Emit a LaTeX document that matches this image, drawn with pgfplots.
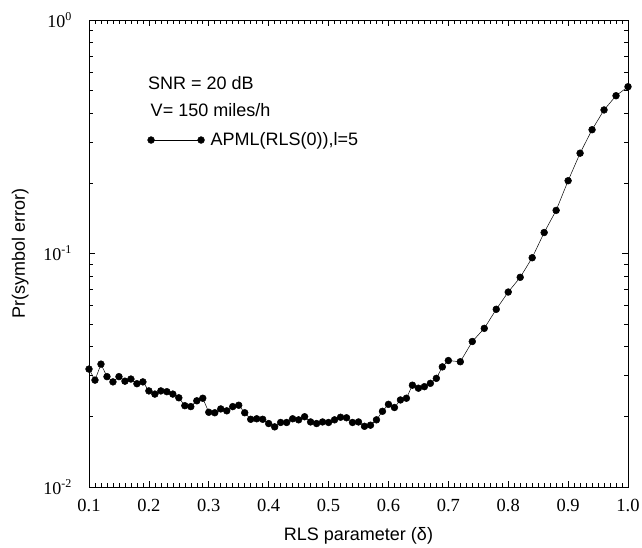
\documentclass[border=0pt]{standalone}
\usepackage{fontspec}
\setmainfont{Liberation Sans}
\newfontfamily\tickfont{Liberation Serif}
\usepackage{pgfplots}
\pgfplotsset{compat=1.18}
\usepackage{pgfplotstable}
\pgfplotstableread{
x y
0.10 0.0320
0.11 0.0287
0.12 0.0336
0.13 0.0297
0.14 0.0282
0.15 0.0297
0.16 0.0284
0.17 0.0290
0.18 0.0277
0.19 0.0282
0.20 0.0258
0.21 0.0250
0.22 0.0258
0.23 0.0256
0.24 0.0250
0.25 0.0241
0.26 0.0223
0.27 0.0221
0.28 0.0234
0.29 0.0240
0.30 0.0209
0.31 0.0208
0.32 0.0216
0.33 0.0212
0.34 0.0221
0.35 0.0224
0.36 0.0208
0.37 0.0195
0.38 0.0196
0.39 0.0195
0.40 0.0187
0.41 0.0181
0.42 0.0189
0.43 0.0189
0.44 0.0196
0.45 0.0194
0.46 0.0200
0.47 0.0190
0.48 0.0187
0.49 0.0190
0.50 0.0189
0.51 0.0194
0.52 0.0199
0.53 0.0198
0.54 0.0189
0.55 0.0190
0.56 0.0182
0.57 0.0184
0.58 0.0194
0.59 0.0211
0.60 0.0226
0.61 0.0219
0.62 0.0236
0.63 0.0240
0.64 0.0273
0.65 0.0265
0.66 0.0269
0.67 0.0278
0.68 0.0292
0.69 0.0327
0.70 0.0348
0.72 0.0344
0.74 0.0420
0.76 0.0478
0.78 0.0577
0.80 0.0684
0.82 0.0791
0.84 0.0959
0.86 0.123
0.88 0.153
0.90 0.205
0.92 0.269
0.94 0.339
0.96 0.412
0.98 0.474
1.00 0.518
}\datatable
\newcommand{\tp}[1]{\tickfont{\fontsize{18}{20}\selectfont 10}\raisebox{7pt}{\fontsize{12}{13}\selectfont #1}}
\begin{document}
\begin{tikzpicture}
\begin{axis}[
  scale only axis,
  width=539pt, height=467pt,
  xmin=0.1, xmax=1.0,
  ymode=log, ymin=1e-2, ymax=1,
  xtick={0.1,0.2,0.3,0.4,0.5,0.6,0.7,0.8,0.9,1.0},
  xticklabels={0.1,0.2,0.3,0.4,0.5,0.6,0.7,0.8,0.9,1.0},
  minor x tick num=9,
  ytick={0.01,0.1,1},
  yticklabels={\tp{-2},\tp{-1},\tp{0}},
  tick align=inside,
  tick pos=both,
  major tick length=6pt,
  minor tick length=4pt,
  tick style={black, line width=0.6pt},
  axis line style={line width=0.9pt},
  xticklabel style={font=\tickfont\fontsize{18.5}{22}\selectfont, yshift=-9pt},
  yticklabel style={font=\tickfont, xshift=-14pt},
  label style={font=\fontsize{18}{22}\selectfont},
  xlabel={RLS parameter (δ)},
  xlabel style={yshift=-8pt},
  ylabel={Pr(symbol error)},
  ylabel style={yshift=8pt},
  legend style={draw=none, fill=none, at={(0.108,0.743)}, anchor=west, font=\fontsize{18}{22}\selectfont, inner sep=0pt, legend cell align=left},
  legend image code/.code={\draw[black, line width=0.5pt] (0pt,0pt) -- (50pt,0pt); \fill[black] (0pt,0pt) circle (3.4pt); \fill[black] (50pt,0pt) circle (3.4pt);},
]
\addplot[black, line width=0.5pt, mark=*, mark size=3.4pt] table[x=x,y=y] {\datatable};
\addlegendentry{\hspace{4pt}APML(RLS(0)),l=5}
\node[anchor=west, font=\fontsize{18}{22}\selectfont] at (rel axis cs:0.103,0.865) {SNR = 20 dB};
\node[anchor=west, font=\fontsize{18}{22}\selectfont] at (rel axis cs:0.108,0.807) {V= 150 miles/h};
\end{axis}
\pgfresetboundingbox
\path (current axis.south west) ++(-89pt,-60pt) rectangle ([shift={(14pt,20pt)}]current axis.north east);
\end{tikzpicture}
\end{document}
